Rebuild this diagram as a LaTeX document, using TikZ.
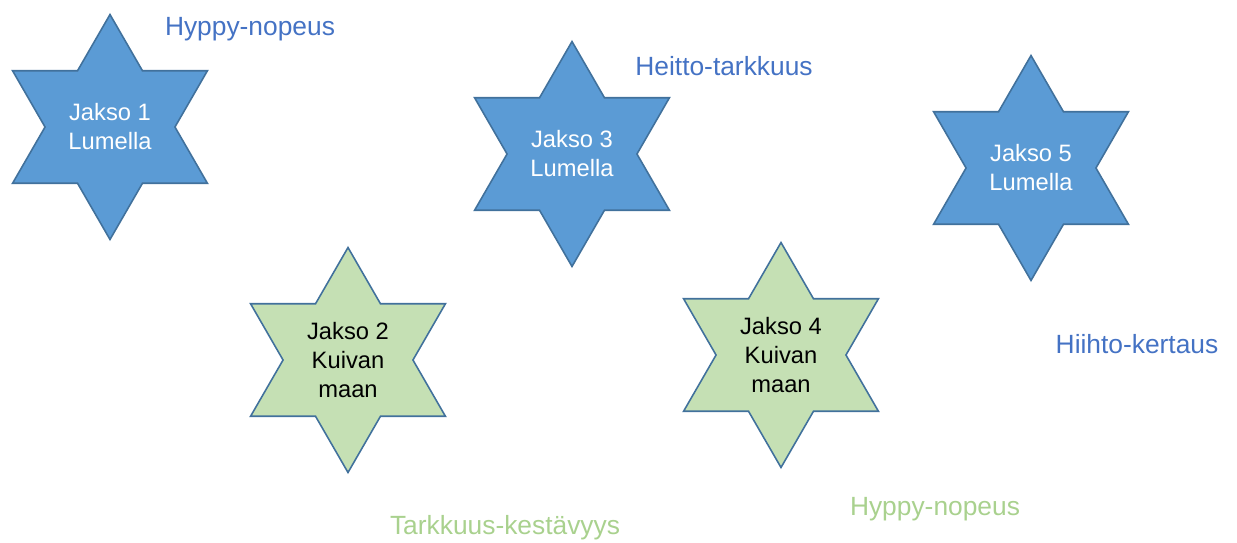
\documentclass[tikz,border=0pt]{standalone}
\usepackage{fontspec}
\setmainfont{Liberation Sans}
\usepackage{tikz}
\usetikzlibrary{shapes.geometric}

\definecolor{lumifill}{HTML}{5B9BD5}
\definecolor{maafill}{HTML}{C5E0B4}
\definecolor{tahtiline}{HTML}{41719C}
\definecolor{lumitext}{HTML}{4472C4}
\definecolor{maatext}{HTML}{A9D18E}

\begin{document}
\begin{tikzpicture}[
  x=0.02cm, y=-0.02cm,
  jakso/.style={star, star points=6, star point ratio=1.732, minimum size=4.5cm,
    inner sep=0pt, draw=tahtiline, line width=0.9pt, align=center,
    font=\fontsize{13.5}{16.5}\selectfont},
  lumi/.style={jakso, fill=lumifill, text=white},
  maa/.style={jakso, fill=maafill, text=black},
  taito/.style={font=\fontsize{15}{18}\selectfont, inner sep=0pt}
]
\useasboundingbox (0,0) rectangle (1237,542);

% stars
\node[lumi] (j1) at (110,127) {Jakso 1\\Lumella};
\node[maa]  (j2) at (348,360) {Jakso 2\\Kuivan\\maan};
\node[lumi] (j3) at (572,154) {Jakso 3\\Lumella};
\node[maa]  (j4) at (781,355) {Jakso 4\\Kuivan\\maan};
\node[lumi] (j5) at (1031,168) {Jakso 5\\Lumella};

% skills
\node[taito, text=lumitext] (t1) at (250,29) {Hyppy-nopeus};
\node[taito, text=maatext]  (t2) at (505,528) {Tarkkuus-kestävyys};
\node[taito, text=lumitext] (t3) at (724,66) {Heitto-tarkkuus};
\node[taito, text=maatext]  (t4) at (935,509) {Hyppy-nopeus};
\node[taito, text=lumitext] (t5) at (1137,344) {Hiihto-kertaus};

\end{tikzpicture}
\end{document}
